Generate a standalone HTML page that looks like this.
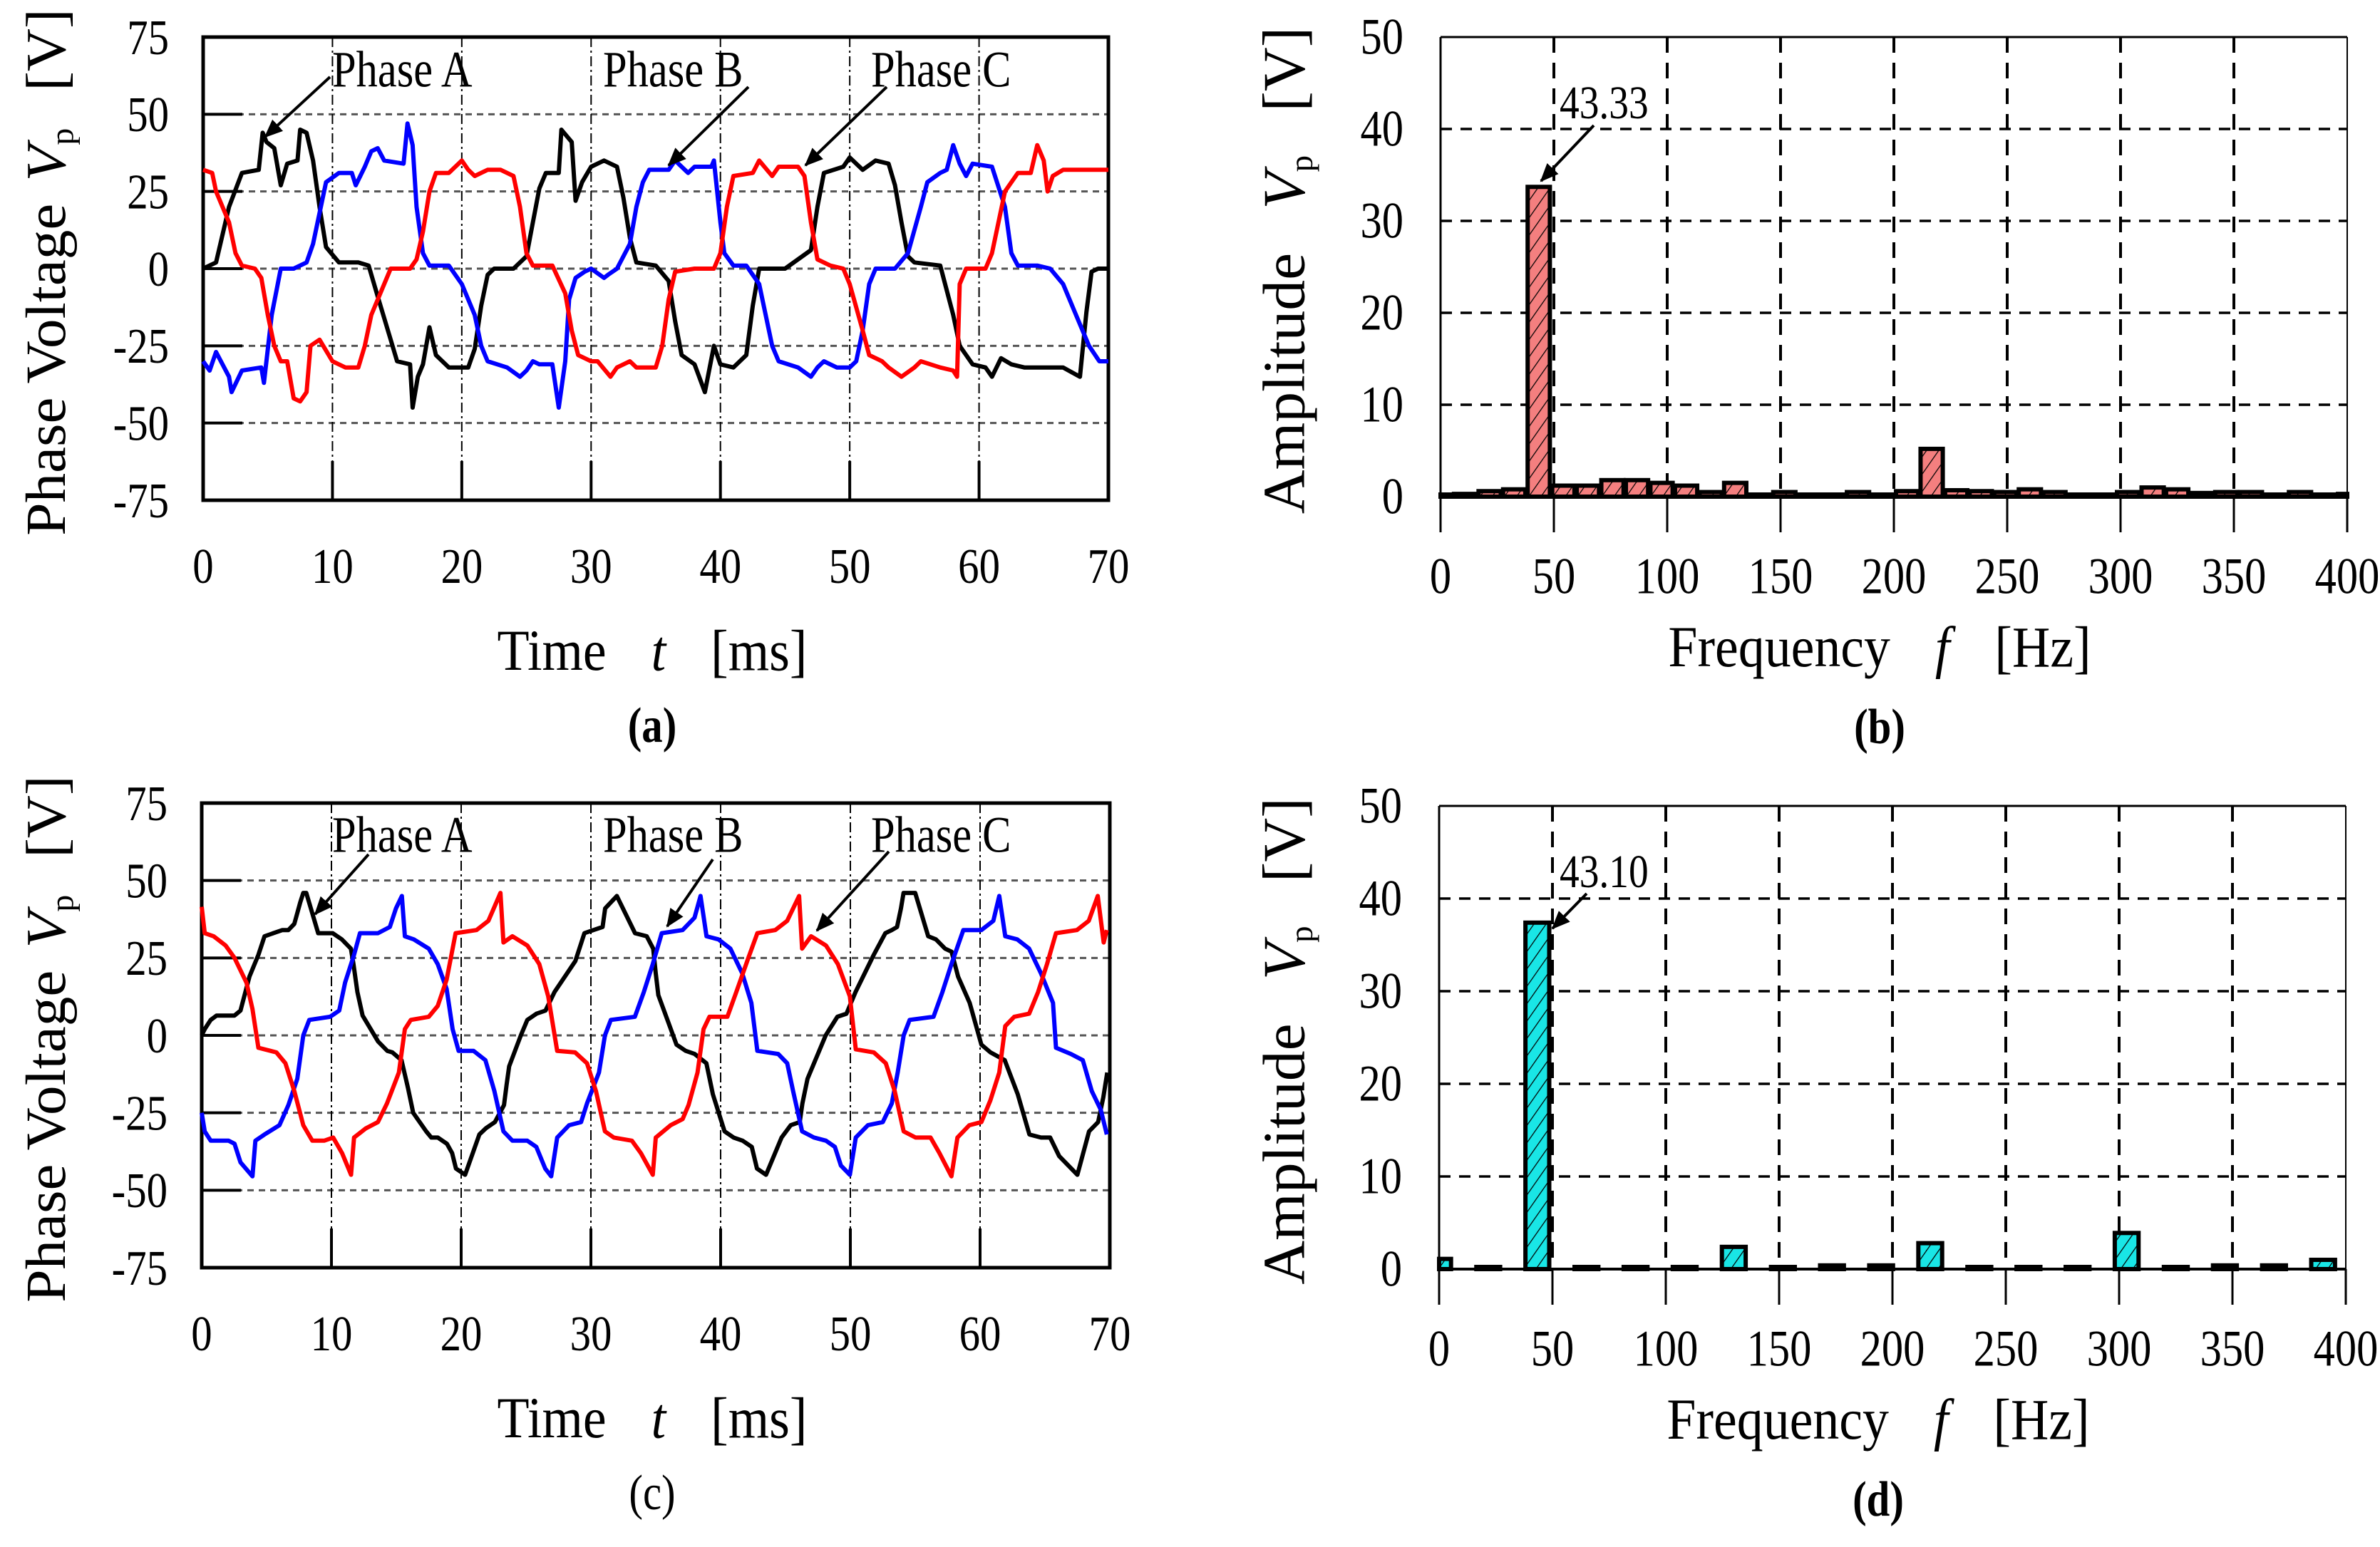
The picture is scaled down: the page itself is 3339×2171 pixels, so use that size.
<!DOCTYPE html>
<html><head><meta charset="utf-8"><style>
html,body{margin:0;padding:0;background:#fff;}
svg{display:block;}
text{font-family:"Liberation Serif","Times New Roman",serif;fill:#000;}
</style></head><body>
<svg id="fig" width="3339" height="2171" viewBox="0 0 3339 2171" xmlns="http://www.w3.org/2000/svg">
<defs>
<pattern id="hatchR" patternUnits="userSpaceOnUse" width="14" height="14" patternTransform="rotate(35)"><rect width="14" height="14" fill="#f47f7f"/><line x1="0" y1="0" x2="0" y2="14" stroke="#000" stroke-width="2.5"/></pattern>
<pattern id="hatchC" patternUnits="userSpaceOnUse" width="14" height="14" patternTransform="rotate(35)"><rect width="14" height="14" fill="#19e6e6"/><line x1="0" y1="0" x2="0" y2="14" stroke="#000" stroke-width="2.5"/></pattern>
<marker id="arr" markerWidth="26" markerHeight="22" refX="24" refY="11" orient="auto" markerUnits="userSpaceOnUse" viewBox="0 0 26 22"><path d="M0,0 L26,11 L0,22 z" fill="#000"/></marker>
</defs>
<g id="root"></g>
</svg>
<script>
// ---------- Panel (a) data ----------
const tA_a=[0,1,2,3,4.3,4.6,4.9,5.5,6,6.5,7.3,7.5,8,8.5,9,9.5,10.5,12,12.8,13.5,14.5,15,16,16.2,16.6,17,17.5,18,19,20.5,21,21.5,22,22.5,24,25,25.5,26,26.5,27.5,27.7,28.5,28.8,29.3,30,31,32,32.5,33,33.5,35,36,36.5,37,38,38.8,39.5,40,41,42,42.5,43,45,47,47.5,48,49.5,50,51,52,53,53.5,54,54.5,55,57,57.5,58,58.5,59.5,60.5,61,61.7,62.5,63.5,65,66.5,67.8,68.3,68.7,69.2,70];
const vA_a=[0,2,20,31,32,44,41,39,27,34,35,45,44,35,20,7,2,2,1,-9,-23,-30,-31,-45,-35,-31,-19,-28,-32,-32,-26,-12,-2,0,0,4,15,26,31,31,45,41,22,28,33,35,33,23,10,2,1,-4,-17,-28,-31,-40,-25,-31,-32,-28,-12,0,0,6,20,31,33,36,32,35,34,27,15,4,2,1,-7,-15,-25,-31,-32,-35,-29,-31,-32,-32,-32,-35,-14,-1,0,0];
const tB_a=[0,0.5,1,2,2.2,3,4.5,4.7,5.3,6,7,8,8.5,9,9.5,10.5,11.5,11.8,12.5,13,13.5,14,15.5,15.8,16.2,16.5,17,17.5,19,20,21,21.5,22,23.5,24.5,25,25.5,26,27,27.5,28,28.3,28.8,29.5,30,31,31.3,32,33,33.5,34,34.5,36,36.5,37.5,38,39.3,39.5,40,40.3,41,42,43,43.5,44,44.5,46,47,47.5,48,49,50,50.5,51,51.5,52,53.5,54.5,55.5,56,57,57.5,58,58.5,59,59.5,61,62,62.5,63,64.5,65.5,66.5,67.5,68.5,69.3,70];
const vB_a=[-30,-33,-27,-35,-40,-33,-32,-37,-15,0,0,2,8,18,28,31,31,27,33,38,39,35,34,47,40,20,5,1,1,-5,-15,-25,-30,-32,-35,-33,-30,-31,-31,-45,-30,-10,-3,-1,0,-3,-2,0,8,20,28,32,32,35,31,33,33,35,15,5,1,1,-5,-15,-25,-30,-32,-35,-32,-30,-32,-32,-30,-20,-5,0,0,5,20,28,31,32,40,34,30,34,33,20,5,1,1,0,-5,-15,-25,-30,-30];
const tC_a=[0,0.7,1,2,2.5,3,4,4.5,5,5.5,6,6.5,7,7.5,8,8.3,9,10,11,12,12.5,13,14,14.5,16,16.5,17,17.5,18,19,20,20.5,21,22,23,24,24.5,25,25.5,27,28,28.5,29,30,30.5,31.5,32,33,33.5,35,35.5,36,36.5,38,39.5,40,40.5,41,42.5,43,44,44.5,46,46.5,47,47.5,48.5,49.5,50,51,51.5,52.5,53,54,55,55.5,57,58,58.3,58.5,59,60.5,61,61.5,62,63,64,64.5,65,65.3,65.7,66.5,70];
const vC_a=[32,31,25,15,5,1,0,-3,-15,-25,-30,-30,-42,-43,-40,-25,-23,-30,-32,-32,-25,-15,-5,0,0,3,12,25,31,31,35,32,30,32,32,30,20,5,1,1,-8,-20,-28,-30,-30,-35,-32,-30,-32,-32,-25,-10,-1,0,0,5,20,30,31,35,30,33,33,30,15,3,1,0,-5,-20,-28,-30,-32,-35,-32,-30,-32,-33,-35,-5,0,0,5,15,25,31,31,40,35,25,30,32,32];
// ---------- Panel (c) data ----------
const tA_c=[0,0.23,0.69,1.15,2.53,2.99,3.68,4.37,4.84,6.22,6.68,7.14,7.6,7.83,8.06,8.98,10.1,10.8,11.5,11.7,12.0,12.4,13.6,14.3,14.7,15.4,15.9,16.3,17.3,17.7,18.2,18.9,19.3,19.6,20.3,21.4,21.9,22.6,23.3,23.5,23.7,24.6,25.1,25.8,26.5,27.2,28.8,29.5,30.2,30.9,31.1,32.0,33.4,34.3,34.8,35.0,35.2,36.6,37.3,38.0,38.9,39.4,40.3,41.0,41.7,42.4,42.8,43.5,44.7,45.4,46.1,46.3,46.7,48.1,49.0,49.7,50.4,51.8,52.7,53.2,53.6,53.9,54.1,55.0,56.0,56.6,57.3,57.8,58.3,59.2,60.1,60.8,61.9,62.9,63.8,64.7,65.4,66.1,67.5,68.4,69.1,69.5,69.8];
const vA_c=[0,2,5,6.4,6.4,8,19,26,32,34,34,36,43,46,46,33,33,31,28,23,14,6.4,-2,-5,-5.5,-8,-17,-25,-31,-33,-33,-35,-38,-43,-45,-32,-30,-28,-22.5,-16,-10,0,5,7,8,14,24,33,34,35,41,45,33,32,28,20,13,-3,-5,-6,-9,-19,-31,-33,-34,-36,-43,-45,-33,-29,-28,-22,-14,0,6,7,14,26,33,34,35,41,46,46,32,31,28,27,19,10.5,-3,-5.5,-8,-19,-32,-33,-33,-39,-45,-31,-28,-20,-12,4,4];
const tB_c=[0,0.23,0.69,2.07,2.53,2.99,3.91,4.14,4.84,5.99,6.68,7.37,7.83,8.29,9.9,10.6,11.05,11.74,12.2,13.58,14.5,14.97,15.43,15.66,16.35,17.5,18.19,18.88,19.34,19.8,20.95,21.87,22.56,23.26,23.95,25.1,25.79,26.48,26.94,27.4,28.32,29.24,29.7,30.62,31.08,31.54,33.39,34.08,34.77,35.46,37.07,37.99,38.45,38.91,39.83,40.75,41.67,42.37,42.83,44.44,45.13,45.59,46.28,47.2,48.12,48.81,49.27,49.96,50.42,51.35,52.5,53.19,53.65,54.11,54.57,56.41,57.1,57.79,58.71,60.1,61.02,61.48,61.94,62.86,63.78,64.7,65.62,65.85,67.0,67.92,68.61,69.3,69.77];
const vB_c=[-25,-31,-34,-34,-35,-41,-45.5,-34,-32,-29,-22.5,-14,0,5,6,8,17,26,33,33,35,41,45,32,31,28,23,15,2,-5,-5,-8,-18,-31,-34,-34,-36,-43,-45.5,-33,-29,-28,-22,-12,0,5,6,14,23,33,34,38,45,32,31,28,20,10.5,-5,-6,-9,-18,-31,-33,-34,-36,-42,-45,-33,-29,-28,-22,-12,0,5,6,14,23,34,34,37,45,32,31,28,20,10.5,-4,-6,-8,-18,-24,-32];
const tC_c=[0,0.23,0.92,1.84,2.53,3.45,3.91,4.37,5.76,6.45,7.14,7.83,8.52,9.44,10.13,10.82,11.51,11.74,12.66,13.58,14.28,15.2,15.66,16.12,17.5,18.19,18.88,19.57,21.18,22.1,23.03,23.26,23.95,25.1,26.02,26.71,27.4,28.78,29.7,30.39,31.08,31.77,33.16,33.85,34.77,35.0,36.15,37.07,37.53,38.22,38.68,39.14,40.52,41.21,42.14,42.83,44.21,45.13,46.05,46.28,46.97,48.12,49.04,49.96,50.42,51.81,52.73,53.42,54.11,55.03,56.18,56.87,57.79,58.25,59.17,60.1,60.79,61.48,61.94,62.63,63.78,64.47,65.16,65.85,67.46,68.38,69.07,69.53,69.77];
const vC_c=[41.5,33,32,29,25,17,8.5,-4,-5.5,-9,-18,-29,-34,-34,-33,-38,-45,-33,-30,-28,-22,-12,2,5,6,9.5,18,33,34,37,46,30,32,29,23,12.6,-5,-5.5,-9,-18,-31,-33,-34,-38,-45,-33,-29,-27,-22.5,-12,2,6,6,14,25,33,34,37,45,28,32,29,23,12.6,-4.5,-5.5,-9,-18,-31,-33,-33,-38,-45.5,-33,-29,-28,-21,-12,3,6,7,14,23,33,34,37,45,30,34];
// ---------- Panel (b) & (d) data ----------
const freqB=[0,10.83,21.67,32.5,43.33,54.17,65,75.83,86.67,97.5,108.33,119.17,130,140.83,151.67,162.5,173.33,184.17,195,205.83,216.67,227.5,238.33,249.17,260,270.83,281.67,292.5,303.33,314.17,325,335.83,346.67,357.5,368.33,379.17,390,400.83];
const ampB=[0.2,0.3,0.6,0.8,33.7,1.2,1.2,1.8,1.8,1.5,1.2,0.5,1.5,0.2,0.5,0.2,0.2,0.5,0.2,0.6,5.2,0.7,0.6,0.5,0.8,0.5,0.1,0.1,0.5,1.0,0.8,0.4,0.5,0.5,0.2,0.5,0.2,0.3];
const freqD=[0,21.67,43.33,65,86.67,108.33,130,151.67,173.33,195,216.67,238.33,260,281.67,303.33,325,346.67,368.33,390];
const ampD=[1.1,0.2,37.4,0.2,0.2,0.2,2.4,0.2,0.4,0.4,2.8,0.2,0.2,0.2,3.9,0.2,0.4,0.4,1.0];
const xTicksT=[0,10,20,30,40,50,60,70];
const yTicksV=[75,50,25,0,-25,-50,-75];
const xTicksF=[0,50,100,150,200,250,300,350,400];
const yTicksA=[50,40,30,20,10,0];

const NS='http://www.w3.org/2000/svg';
const root=document.getElementById('root');
const SX=0.84;
function mk(tag,attrs,parent){const e=document.createElementNS(NS,tag);for(const k in attrs)e.setAttribute(k,attrs[k]);(parent||root).appendChild(e);return e;}
function txt(s,x,y,size,parent,anchor,extra){const e=mk('text',Object.assign({x:0,y:0,'font-size':size,'text-anchor':anchor||'middle','dominant-baseline':'central',transform:'translate('+x+','+y+') scale('+SX+',1)'},extra||{}),parent);e.textContent=s;return e;}

function timePanel(id,L,R,T,B,series,ann,label,labelBold){
  const g=mk('g',{});
  
  
  const xs=t=>L+(R-L)*t/70, ys=v=>T+(B-T)*(75-v)/150;
  [50,25,0,-25,-50].forEach(v=>{
    const l=mk('line',{x1:L,x2:R,y1:ys(v),y2:ys(v),stroke:'#555','stroke-width':3,'stroke-dasharray':'9 7'},g);
    
    
    mk('line',{x1:L,x2:L+55,y1:ys(v),y2:ys(v),stroke:'#000','stroke-width':4},g);
  });
  xTicksT.slice(1,-1).forEach(t=>{
    const l=mk('line',{x1:xs(t),x2:xs(t),y1:T,y2:B,stroke:'#000','stroke-width':2,'stroke-dasharray':'14 5 3 5'},g);
    
    
    mk('line',{x1:xs(t),x2:xs(t),y1:B-55,y2:B,stroke:'#000','stroke-width':4},g);
  });
  const fr=mk('rect',{x:L,y:T,width:R-L,height:B-T,fill:'none',stroke:'#000','stroke-width':5},g);
  
  
  series.forEach(s=>{
    const n=Math.min(s.t.length,s.v.length);let d='';
    for(let i=0;i<n;i++)d+=(i?'L':'M')+xs(s.t[i]).toFixed(1)+','+ys(s.v[i]).toFixed(1);
    const p=mk('path',{d:d,fill:'none',stroke:s.c,'stroke-width':6,'stroke-linejoin':'round'},g);
    
    
  });
  yTicksV.forEach(v=>{const e=txt(String(v),L-48,ys(v),70,g,'end');
    
    });
  xTicksT.forEach(t=>{const e=txt(String(t),xs(t),B+92,70,g);
    
    });
  const yt=mk('text',{x:0,y:0,'font-size':80,'text-anchor':'middle','dominant-baseline':'central',transform:'translate(64,'+((T+B)/2+5)+') rotate(-90) scale(1.04,1)'},g);
  yt.innerHTML='Phase Voltage<tspan dx="30" font-style="italic">V</tspan><tspan font-size="46" dy="24">p</tspan><tspan dx="50" dy="-24">[V]</tspan>';
  
  
  const xt=mk('text',{x:0,y:0,'font-size':82,'text-anchor':'middle','dominant-baseline':'central',transform:'translate('+((L+R)/2-5)+','+(B+210)+') scale(0.9,1)'},g);
  xt.innerHTML='Time<tspan dx="70" font-style="italic">t</tspan><tspan dx="70">[ms]</tspan>';
  
  
  const lb=txt(label,(L+R)/2-5,B+315,70,g,'middle',labelBold?{'font-weight':'bold'}:{});
  
  
  ann.forEach(a=>{
    const e=txt(a.s,a.x,a.y,72,g,'start');
    
    
    const ar=mk('line',{x1:a.x1,y1:a.y1,x2:a.x2,y2:a.y2,stroke:'#000','stroke-width':4,'marker-end':'url(#arr)'},g);
    
    
  });
}

function freqPanel(id,L,R,T,B,freqs,amps,fill,bw,label,ann){
  const g=mk('g',{});
  
  
  const xs=f=>L+(R-L)*f/400, ys=v=>T+(B-T)*(50-v)/50;
  yTicksA.slice(1,-1).forEach(v=>{
    const l=mk('line',{x1:L,x2:R,y1:ys(v),y2:ys(v),stroke:'#000','stroke-width':3.5,'stroke-dasharray':'16 12'},g);
    
    
  });
  xTicksF.slice(1,-1).forEach(f=>{
    const l=mk('line',{x1:xs(f),x2:xs(f),y1:T,y2:B,stroke:'#000','stroke-width':4,'stroke-dasharray':'22 14'},g);
    
    
  });
  xTicksF.forEach(f=>{mk('line',{x1:xs(f),x2:xs(f),y1:B,y2:B+50,stroke:'#000','stroke-width':3},g);});
  mk('line',{x1:L,x2:R,y1:T,y2:T,stroke:'#000','stroke-width':3},g);
  mk('line',{x1:L,x2:L,y1:T,y2:B+50,stroke:'#000','stroke-width':3},g);
  mk('line',{x1:R,x2:R,y1:T,y2:B+50,stroke:'#000','stroke-width':2},g);
  const n=Math.min(freqs.length,amps.length);
  for(let i=0;i<n;i++){
    let x0=xs(freqs[i]-bw/2),x1=xs(freqs[i]+bw/2);
    x0=Math.max(x0,L);x1=Math.min(x1,R);
    const h=Math.max(ys(0)-ys(amps[i]),3);
    const r=mk('rect',{x:x0,y:ys(0)-h,width:x1-x0,height:h,fill:fill,stroke:'#000','stroke-width':6},g);
    
    
  }
  mk('line',{x1:L,x2:R,y1:B,y2:B,stroke:'#000','stroke-width':4},g);
  yTicksA.forEach(v=>{const e=txt(String(v),L-52,ys(v),72,g,'end');
    
    });
  xTicksF.forEach(f=>{const e=txt(String(f),xs(f),B+112,72,g);
    
    });
  const yt=mk('text',{x:0,y:0,'font-size':84,'text-anchor':'middle','dominant-baseline':'central',transform:'translate(1802,'+((T+B)/2+5)+') rotate(-90) scale(1.02,1)'},g);
  yt.innerHTML='Amplitude<tspan dx="60" font-style="italic">V</tspan><tspan font-size="46" dy="24">p</tspan><tspan dx="60" dy="-24">[V]</tspan>';
  
  
  const xt=mk('text',{x:0,y:0,'font-size':82,'text-anchor':'middle','dominant-baseline':'central',transform:'translate('+((L+R)/2-20)+','+(B+210)+') scale(0.9,1)'},g);
  xt.innerHTML='Frequency<tspan dx="70" font-style="italic">f</tspan><tspan dx="70">[Hz]</tspan>';
  
  
  const lb=txt(label,(L+R)/2-20,B+322,70,g,'middle',{'font-weight':'bold'});
  
  
  const at=txt(ann.s,ann.x,ann.y,66,g,'start',{fill:'#333'});
  
  
  const ar=mk('line',{x1:ann.x1,y1:ann.y1,x2:ann.x2,y2:ann.y2,stroke:'#000','stroke-width':4,'marker-end':'url(#arr)'},g);
  
  
}

timePanel('a',285,1555,52,702,
  [{name:'phase-a-line',t:tA_a,v:vA_a,c:'#000'},{name:'phase-b-line',t:tB_a,v:vB_a,c:'#0000ff'},{name:'phase-c-line',t:tC_a,v:vC_a,c:'#ff0000'}],
  [{s:'Phase A',x:466,y:98,x1:463,y1:108,x2:372,y2:192},
   {s:'Phase B',x:846,y:98,x1:1050,y1:122,x2:938,y2:232},
   {s:'Phase C',x:1222,y:98,x1:1244,y1:122,x2:1130,y2:232}],'(a)',true);
timePanel('c',283,1557,1127,1779,
  [{name:'phase-a-line',t:tA_c,v:vA_c,c:'#000'},{name:'phase-b-line',t:tB_c,v:vB_c,c:'#0000ff'},{name:'phase-c-line',t:tC_c,v:vC_c,c:'#ff0000'}],
  [{s:'Phase A',x:466,y:1172,x1:517,y1:1199,x2:442,y2:1283},
   {s:'Phase B',x:846,y:1172,x1:1000,y1:1206,x2:936,y2:1300},
   {s:'Phase C',x:1222,y:1172,x1:1247,y1:1195,x2:1146,y2:1306}],'(c)',false);
freqPanel('b',2021,3293,52,697,freqB,ampB,'url(#hatchR)',9.8,'(b)',
  {s:'43.33',x:2188,y:145,x1:2236,y1:176,x2:2162,y2:254});
freqPanel('d',2019,3291,1131,1781,freqD,ampD,'url(#hatchC)',10.5,'(d)',
  {s:'43.10',x:2188,y:1224,x1:2226,y1:1254,x2:2178,y2:1303});
</script>
</body></html>
